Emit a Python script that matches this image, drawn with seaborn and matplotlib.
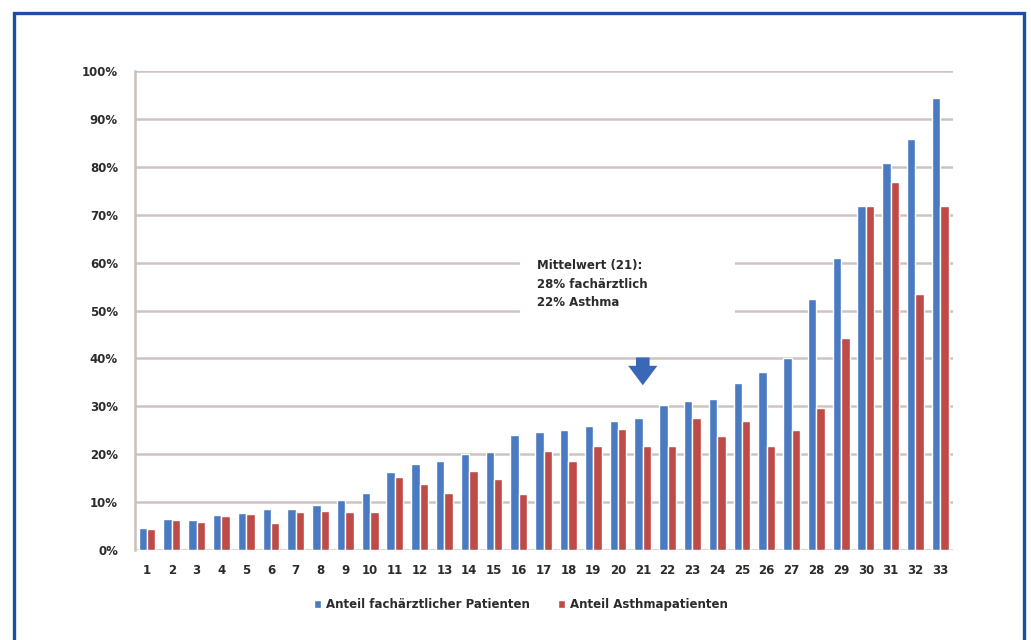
import matplotlib
matplotlib.use("Agg")
import matplotlib.pyplot as plt
from matplotlib.patches import Rectangle
import seaborn as sns
import pandas as pd

# Practices, sorted by share of specialist patients
practices = [str(i) for i in range(1, 34)]

# Share of patients treated by a specialist (%)
anteil_fachaerztlich = [4.6, 6.4, 6.3, 7.4, 7.7, 8.6, 8.6, 9.3, 10.4, 12.0,
                        16.2, 18.0, 18.5, 20.1, 20.5, 24.0, 24.6, 25.0, 25.8, 26.9,
                        27.6, 30.2, 31.2, 31.5, 34.9, 37.2, 40.0, 52.4, 60.9, 71.8,
                        80.7, 85.9, 94.3]

# Share of asthma patients (%)
anteil_asthma = [4.3, 6.3, 5.8, 7.0, 7.5, 5.6, 8.0, 8.1, 7.9, 7.9,
                 15.2, 13.8, 12.0, 16.6, 14.8, 11.6, 20.6, 18.6, 21.8, 25.2,
                 21.7, 21.7, 27.5, 23.7, 26.9, 21.7, 25.1, 29.6, 44.2, 71.8,
                 76.9, 53.5, 71.8]

series_names = ["Anteil fachärztlicher Patienten", "Anteil Asthmapatienten"]
series_colors = ["#4a7bc2", "#be4b48"]

y_ticks = [0, 10, 20, 30, 40, 50, 60, 70, 80, 90, 100]
y_tick_labels = [f"{t}%" for t in y_ticks]

annotation_lines = ["Mittelwert (21):", "28% fachärztlich", "22% Asthma"]
highlight_practice = "21"

df = pd.DataFrame({
    "Praxis": practices * 2,
    "Anteil": anteil_fachaerztlich + anteil_asthma,
    "Serie": [series_names[0]] * len(practices) + [series_names[1]] * len(practices),
})

sns.set_theme(style="white")
plt.rcParams["font.family"] = ["DejaVu Sans"]

fig = plt.figure(figsize=(10.31, 6.40), dpi=100)
fig.patch.set_facecolor("white")
ax = fig.add_axes([0.1306, 0.1406, 0.7934, 0.7484])

sns.barplot(data=df, x="Praxis", y="Anteil", hue="Serie", order=practices,
            hue_order=series_names, palette=series_colors, width=0.68,
            gap=0, saturation=1, errorbar=None, ax=ax)
for bar in ax.patches:
    bar.set_zorder(3)

ax.set_xlim(-0.5, len(practices) - 0.5)
ax.set_ylim(0, 100)
ax.set_yticks(y_ticks)
ax.set_yticklabels(y_tick_labels)
ax.set_xlabel("")
ax.set_ylabel("")

# horizontal gridlines behind the bars
ax.yaxis.grid(True, color="#cdc4bf", linewidth=1.8)
ax.set_axisbelow(True)

for side in ["top", "right", "bottom"]:
    ax.spines[side].set_visible(False)
ax.spines["left"].set_color("#c8c0bb")
ax.spines["left"].set_linewidth(1.8)

ax.tick_params(axis="y", length=3, width=1, color="#c8c0bb", pad=9,
               labelsize=8.5, labelcolor="#2b2b2b")
ax.tick_params(axis="x", length=0, pad=10, labelsize=8.5, labelcolor="#2b2b2b")
for lab in ax.get_xticklabels() + ax.get_yticklabels():
    lab.set_fontweight("bold")

# white box behind the mean-value note
ax.add_patch(Rectangle((0.471, 0.480), 0.263, 0.157, transform=ax.transAxes,
                       facecolor="white", edgecolor="none", zorder=1))
fig.text(0.521, 0.595, "\n".join(annotation_lines), ha="left", va="top",
         fontsize=8.5, fontweight="bold", color="#2b2b2b", linespacing=1.55)

# arrow pointing at the highlighted practice
hx = practices.index(highlight_practice)
ax.annotate("", xy=(hx, 34.4), xytext=(hx, 40.2),
            arrowprops=dict(arrowstyle="simple,head_width=1.5,head_length=1.0,tail_width=0.7",
                            mutation_scale=14, color="#3a67b6", lw=0,
                            shrinkA=0, shrinkB=0),
            zorder=4)

# legend below the plot
handles, labels = ax.get_legend_handles_labels()
ax.get_legend().remove()
leg = fig.legend(handles, labels, loc="center", bbox_to_anchor=(0.505, 0.055),
                 ncol=2, frameon=False, fontsize=8.5, handlelength=0.6,
                 handleheight=0.6, handletextpad=0.4, columnspacing=2.4)
for t in leg.get_texts():
    t.set_fontweight("bold")
    t.set_color("#2b2b2b")

# dark blue frame around the figure
fig.add_artist(Rectangle((0.0136, -0.02), 0.9796, 0.9997, transform=fig.transFigure,
                         facecolor="none", edgecolor="#1d4f9e", linewidth=2.4))

fig.savefig("out.png", dpi=100, facecolor="white")
